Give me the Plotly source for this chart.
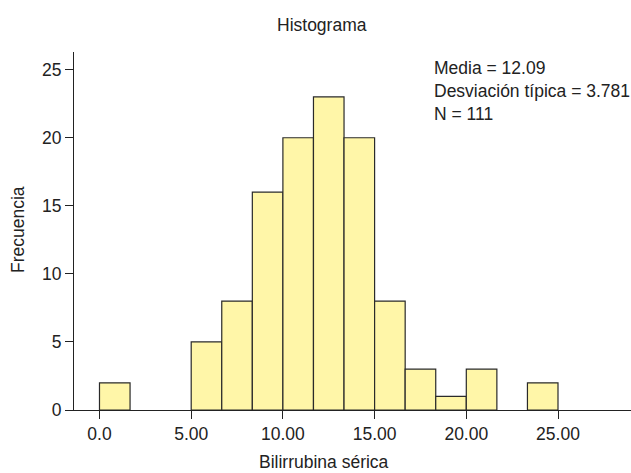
import plotly.graph_objects as go

bin_width = 25 / 15
bin_starts = [0.0, 5.0, 5 + 25/15, 5 + 50/15, 10.0, 10 + 25/15, 10 + 50/15, 15.0,
              15 + 25/15, 15 + 50/15, 20.0, 20 + 50/15]
counts = [2, 5, 8, 16, 20, 23, 20, 8, 3, 1, 3, 2]
x_ticks = [0, 5, 10, 15, 20, 25]
x_tick_labels = ["0.0", "5.00", "10.00", "15.00", "20.00", "25.00"]
y_ticks = [0, 5, 10, 15, 20, 25]
stats_text = "Media = 12.09<br>Desviación típica = 3.781<br>N = 111"

centers = [s + bin_width / 2 for s in bin_starts]

font = "Liberation Sans, Arial, sans-serif"
fs = 17.5
col = "#222"

W, H = 631, 473
L, R, T, B = 74, 0, 52, 63
pw, ph = W - L - R, H - T - B

def px(xp):
    return (xp - L) / pw

def py(yp):
    return 1 - (yp - T) / ph

fig = go.Figure(go.Bar(
    x=centers, y=counts, width=[bin_width] * len(counts),
    marker=dict(color="#FFF6A8", line=dict(color="#2a2a2a", width=1.2)),
    hoverinfo="skip",
))

fig.update_layout(
    width=W, height=H,
    margin=dict(l=L, r=R, t=T, b=B, autoexpand=False),
    plot_bgcolor="white", paper_bgcolor="white",
    showlegend=False,
    font=dict(family=font, size=fs, color=col),
    xaxis=dict(range=[-1.39, 28.98], tickvals=x_ticks, ticktext=x_tick_labels,
               showgrid=False, zeroline=False, showline=True, linecolor=col, linewidth=1,
               ticks="outside", ticklen=8, tickcolor=col, automargin=False),
    yaxis=dict(range=[0, 26.3], tickvals=y_ticks, showgrid=False, zeroline=False,
               showline=True, linecolor=col, linewidth=1,
               ticks="outside", ticklen=8, tickcolor=col, automargin=False),
    annotations=[
        dict(text=stats_text, xref="paper", yref="paper",
             x=px(432), y=py(56), xanchor="left", yanchor="top", align="left",
             showarrow=False, font=dict(family=font, size=fs, color=col)),
        dict(text="Histograma", xref="paper", yref="paper", x=px(322), y=py(25),
             xanchor="center", yanchor="middle", showarrow=False,
             font=dict(family=font, size=fs, color=col)),
        dict(text="Bilirrubina sérica", xref="paper", yref="paper", x=px(324), y=py(462),
             xanchor="center", yanchor="middle", showarrow=False,
             font=dict(family=font, size=fs, color=col)),
        dict(text="Frecuencia", xref="paper", yref="paper", x=px(18), y=py(230),
             xanchor="center", yanchor="middle", textangle=-90, showarrow=False,
             font=dict(family=font, size=fs, color=col)),
    ],
)

fig.write_html("out.html",
               config={"displayModeBar": False},
               post_script="document.body.style.margin='0';document.body.style.overflow='hidden';")
